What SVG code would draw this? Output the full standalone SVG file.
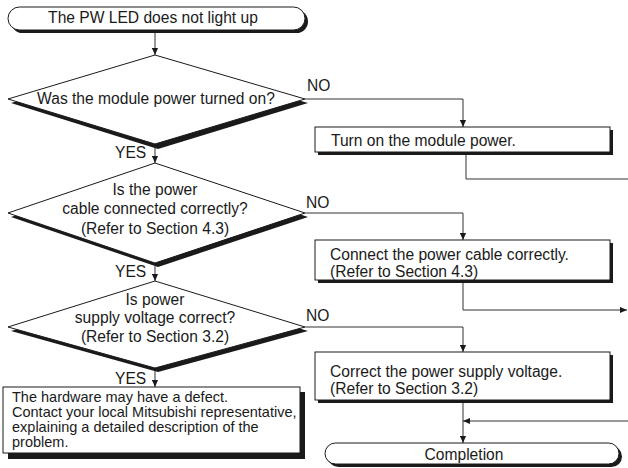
<svg xmlns="http://www.w3.org/2000/svg" width="628" height="468" viewBox="0 0 628 468">
<defs>
<style>
text{font-family:"Liberation Sans",Arial,sans-serif;font-size:15.6px;fill:#1a1a1a}
.c{text-anchor:middle}
.sm{font-size:14.5px}
.shape{fill:#fff;stroke:#1a1a1a;stroke-width:1}
.shadow{fill:#1a1a1a}
.line{fill:none;stroke:#333;stroke-width:1}
</style>
<marker id="ah" viewBox="0 0 8 8" refX="8" refY="4" markerWidth="7" markerHeight="7" markerUnits="userSpaceOnUse" orient="auto">
<path d="M0,0.5 L8,4 L0,7.5 Z" fill="#1a1a1a"/>
</marker>
</defs>

<g id="connectors">
<path class="line" d="M155,32 V55" marker-end="url(#ah)"/>
<path class="line" d="M305,99 H463 V127" marker-end="url(#ah)"/>
<path class="line" d="M466,155 V179 H628"/>
<path class="line" d="M155,147 V163" marker-end="url(#ah)"/>
<path class="line" d="M305,213 H463 V240" marker-end="url(#ah)"/>
<path class="line" d="M463,283 V310 H627" marker-end="url(#ah)"/>
<path class="line" d="M155,266 V281" marker-end="url(#ah)"/>
<path class="line" d="M305,327 H463 V352" marker-end="url(#ah)"/>
<path class="line" d="M155,371 V387" marker-end="url(#ah)"/>
<path class="line" d="M463,403 V443" marker-end="url(#ah)"/>
<path class="line" d="M628,421 H463" marker-end="url(#ah)"/>
</g>

<g id="start">
<rect class="shadow" x="11" y="10" width="297" height="23" rx="11.5"/>
<rect class="shape" x="8" y="7" width="297" height="23" rx="11.5"/>
<text class="c" x="153" y="23">The PW LED does not light up</text>
</g>

<g id="q1">
<polygon class="shadow" points="158,59 308,103 158,149 11,103"/>
<polygon class="shape" points="155,55 305,99 155,144 8,99"/>
<text class="c" x="156" y="104">Was the module power turned on?</text>
</g>
<text x="115" y="158">YES</text>
<text x="307" y="91">NO</text>

<g id="a1">
<rect class="shadow" x="318" y="130" width="295" height="25"/>
<rect class="shape" x="315" y="127" width="295" height="25"/>
<text x="331" y="146">Turn on the module power.</text>
</g>

<g id="q2">
<polygon class="shadow" points="158,167 308,217 158,267 11,217"/>
<polygon class="shape" points="155,163 305,213 155,263 8,213"/>
<text class="c" x="155" y="195">Is the power</text>
<text class="c" x="155" y="214">cable connected correctly?</text>
<text class="c" x="155" y="234">(Refer to Section 4.3)</text>
</g>
<text x="115" y="277">YES</text>
<text x="306" y="208">NO</text>

<g id="a2">
<rect class="shadow" x="318" y="243" width="295" height="40"/>
<rect class="shape" x="315" y="240" width="295" height="40"/>
<text x="330" y="260">Connect the power cable correctly.</text>
<text x="330" y="277">(Refer to Section 4.3)</text>
</g>

<g id="q3">
<polygon class="shadow" points="158,285 308,331 158,372 11,331"/>
<polygon class="shape" points="155,281 305,327 155,368 8,327"/>
<text class="c" x="155" y="305">Is power</text>
<text class="c" x="155" y="323">supply voltage correct?</text>
<text class="c" x="155" y="342">(Refer to Section 3.2)</text>
</g>
<text x="115" y="384">YES</text>
<text x="306" y="321">NO</text>

<g id="a3">
<rect class="shadow" x="318" y="355" width="295" height="48"/>
<rect class="shape" x="315" y="352" width="295" height="48"/>
<text x="330" y="377">Correct the power supply voltage.</text>
<text x="330" y="394">(Refer to Section 3.2)</text>
</g>

<g id="defect">
<rect class="shadow" x="8" y="392" width="297" height="67"/>
<rect class="shape" x="3" y="387" width="297" height="66"/>
<text class="sm" x="12" y="402">The hardware may have a defect.</text>
<text class="sm" x="12" y="417">Contact your local Mitsubishi representative,</text>
<text class="sm" x="12" y="432">explaining a detailed description of the</text>
<text class="sm" x="12" y="447">problem.</text>
</g>

<g id="end">
<rect class="shadow" x="328" y="446" width="294" height="21" rx="10.5"/>
<rect class="shape" x="325" y="443" width="294" height="21" rx="10.5"/>
<text class="c" x="464" y="460">Completion</text>
</g>
</svg>
